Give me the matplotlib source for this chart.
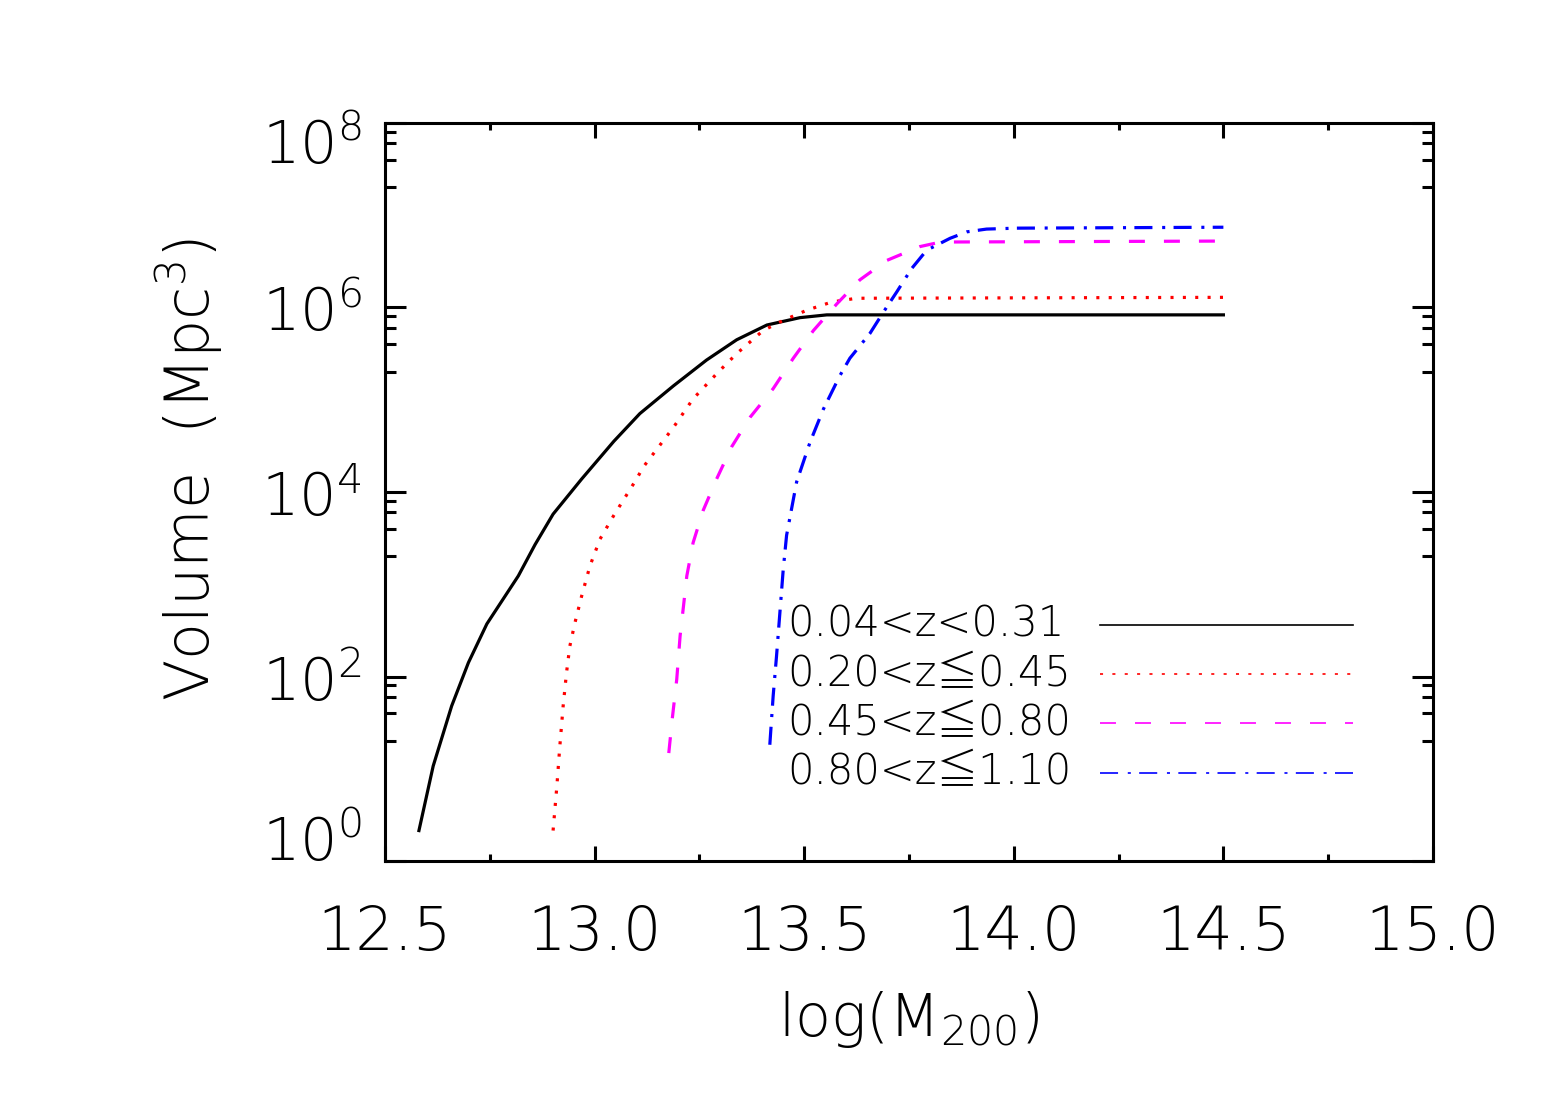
import numpy as np
import matplotlib
matplotlib.use("Agg")
import matplotlib.pyplot as plt
import matplotlib.transforms as mtransforms
from matplotlib.ticker import FixedLocator, NullFormatter

plt.rcParams["font.family"] = ["DejaVu Sans"]
plt.rcParams["font.weight"] = "light"
plt.rcParams["axes.labelweight"] = "light"
plt.rcParams["mathtext.fontset"] = "custom"
plt.rcParams["mathtext.rm"] = "DejaVu Sans:light"
plt.rcParams["mathtext.default"] = "regular"
plt.rcParams["lines.scale_dashes"] = False

# curvas: log(M200) y log10(volumen / Mpc^3)
m_a = [12.581, 12.615, 12.659, 12.699, 12.743, 12.818, 12.858, 12.901, 12.969,
       13.046, 13.108, 13.188, 13.267, 13.339, 13.411, 13.490, 13.554, 13.872, 14.500]
logv_a = [0.33, 1.03, 1.68, 2.15, 2.57, 3.09, 3.43, 3.76, 4.14,
          4.55, 4.85, 5.15, 5.43, 5.65, 5.81, 5.89, 5.92, 5.92, 5.92]

m_b = [12.901, 12.910, 12.917, 12.925, 12.933, 12.941, 12.953, 12.969, 12.989,
       13.013, 13.045, 13.100, 13.116, 13.188, 13.235, 13.295, 13.339, 13.402,
       13.450, 13.506, 13.566, 13.625, 14.500]
logv_b = [0.33, 0.81, 1.24, 1.68, 2.04, 2.33, 2.58, 2.87, 3.20,
          3.49, 3.74, 4.14, 4.27, 4.70, 5.01, 5.30, 5.50, 5.75,
          5.86, 5.97, 6.06, 6.10, 6.11]

m_c = [13.177, 13.185, 13.196, 13.204, 13.212, 13.220, 13.235, 13.259, 13.291,
       13.327, 13.371, 13.426, 13.474, 13.522, 13.578, 13.633, 13.697, 13.776,
       13.816, 13.856, 14.500]
logv_c = [1.17, 1.53, 1.97, 2.44, 2.76, 3.09, 3.45, 3.80, 4.14,
          4.49, 4.81, 5.12, 5.45, 5.75, 6.04, 6.30, 6.51, 6.66,
          6.70, 6.71, 6.72]

m_d = [13.418, 13.426, 13.434, 13.442, 13.450, 13.458, 13.482, 13.514, 13.546,
       13.585, 13.609, 13.657, 13.689, 13.721, 13.756, 13.792, 13.848, 13.888,
       13.935, 14.007, 14.500]
logv_d = [1.26, 1.79, 2.22, 2.69, 3.16, 3.53, 4.11, 4.54, 4.90,
          5.26, 5.45, 5.72, 5.95, 6.17, 6.42, 6.62, 6.75, 6.82,
          6.85, 6.86, 6.87]

etiquetas = ["0.04<z<0.31", "0.20<z≦0.45", "0.45<z≦0.80", "0.80<z≦1.10"]

x_mayores = [12.5, 13.0, 13.5, 14.0, 14.5, 15.0]
x_menores = [12.75, 13.25, 13.75, 14.25, 14.75]
y_decadas = [0, 2, 4, 6, 8]
y_factores = [2, 4, 6, 8]

colores = ["black", "red", "magenta", "blue"]
estilos = ["-", (0, (2.2, 6.7)), (0, (11.5, 13.7)), (0, (13, 7, 2.2, 6))]
curvas = [(m_a, logv_a), (m_b, logv_b), (m_c, logv_c), (m_d, logv_d)]

fig = plt.figure(figsize=(15.48, 11.04), dpi=100)
ax = fig.add_axes([0.2487, 0.2201, 0.6770, 0.6685])

for (mm, lv), c, ls in zip(curvas, colores, estilos):
    ax.plot(mm, 10 ** np.array(lv), color=c, lw=2.3, ls=ls)

ax.set_yscale("log")
ax.set_xlim(12.5, 15.0)
ax.set_ylim(1, 1e8)

ax.xaxis.set_major_locator(FixedLocator(x_mayores))
ax.xaxis.set_minor_locator(FixedLocator(x_menores))
ax.set_xticklabels(["%.1f" % v for v in x_mayores], fontsize=43.5)

ax.yaxis.set_major_locator(FixedLocator([10.0 ** d for d in y_decadas]))
menores = [f * 10.0 ** (d - 1) for d in y_decadas[1:] for f in y_factores]
ax.yaxis.set_minor_locator(FixedLocator(menores))
ax.yaxis.set_minor_formatter(NullFormatter())
ax.tick_params(axis="y", which="both", labelleft=False)

ax.tick_params(which="both", direction="in", top=True, right=True, width=2.2)
ax.tick_params(axis="x", which="major", length=10.6, pad=31)
ax.tick_params(axis="x", which="minor", length=5.3)
ax.tick_params(axis="y", which="major", length=15.1)
ax.tick_params(axis="y", which="minor", length=7.6)
for s in ax.spines.values():
    s.set_linewidth(2.2)

# etiquetas del eje y al estilo IDL (la de abajo y la de arriba se meten hacia dentro)
trans = mtransforms.blended_transform_factory(ax.transAxes, ax.transData)
for d in y_decadas:
    if d == y_decadas[0]:
        dy = 0
    elif d == y_decadas[-1]:
        dy = -41 * 0.72
    else:
        dy = -24 * 0.72
    off = mtransforms.ScaledTranslation(-23 / 100, dy / 72, fig.dpi_scale_trans)
    ax.text(0, 10.0 ** d, r"$10^{%d}$" % d, transform=trans + off,
            ha="right", va="baseline", fontsize=42.5)

ax.set_xlabel(r"log(M$_{200}$)", fontsize=42.5, fontweight="light")
ax.xaxis.label.set_va("center")
ax.xaxis.set_label_coords(0.5, -0.215)
ax.set_ylabel(r"Volume  (Mpc$^{3}$)", fontsize=43.5, fontweight="light")
ax.yaxis.label.set_va("center")
ax.yaxis.set_label_coords(-0.187, 0.53)

# leyenda a mano: texto alineado a la izquierda y muestras de linea en la misma columna
x_texto, x_l1, x_l2 = 0.3836, 0.6823, 0.9237
y_fila, paso = 0.3211, 0.0668
for i, (lab, c, ls) in enumerate(zip(etiquetas, colores, estilos)):
    yy = y_fila - i * paso
    ax.text(x_texto, yy, lab, transform=ax.transAxes, va="center", ha="left",
            fontsize=30, family=["DejaVu Sans", "Noto Sans CJK JP"])
    ax.plot([x_l1, x_l2], [yy - 0.001, yy - 0.001], transform=ax.transAxes,
            color=c, ls=ls, lw=1.2, clip_on=False)

fig.savefig("out.png", dpi=100)
